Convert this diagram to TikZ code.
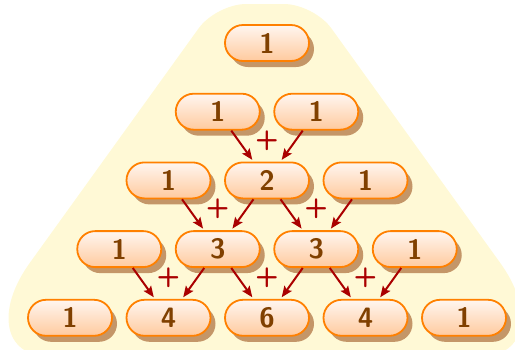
\documentclass[tikz,border=0pt]{standalone}
\usetikzlibrary{shadows,arrows.meta,calc}
\definecolor{bgyellow}{RGB}{255,249,214}
\definecolor{boxline}{RGB}{255,128,0}
\definecolor{boxtop}{RGB}{255,246,240}
\definecolor{boxbottom}{RGB}{255,202,158}
\definecolor{shadowbrown}{RGB}{196,150,104}
\definecolor{numbrown}{RGB}{128,64,0}
\definecolor{arrowred}{RGB}{170,0,0}
\begin{document}
\begin{tikzpicture}[x=1pt,y=-1pt,
  entry/.style={rectangle, rounded corners=18pt, minimum width=84pt,
    minimum height=36pt, line width=1.8pt, draw=boxline,
    top color=boxtop, bottom color=boxbottom,
    drop shadow={shadow xshift=5pt, shadow yshift=-6pt, fill=shadowbrown, opacity=1},
    text=numbrown, inner sep=0pt,
    font=\fontsize{28}{32}\selectfont\sffamily\bfseries},
  sum/.style={-{Stealth[length=11pt,width=9pt,inset=2pt]}, line width=2pt,
    draw=arrowred, shorten >=2pt},
  plus/.style={text=arrowred, inner sep=0pt,
    font=\fontsize{27}{31}\selectfont\sffamily\bfseries}
]
\useasboundingbox (0,0) rectangle (515,349);
% soft trapezoid backdrop with rounded corners
\begin{scope}
  \clip (0,0) rectangle (515,349);
  \fill[bgyellow] (29.7,263) -- (198.6,28.4)
    .. controls (208.2,14.9) and (229.4,4) .. (246,4) -- (284,4)
    .. controls (300.6,4) and (321.8,14.9) .. (331.4,28.4) -- (500.3,263)
    .. controls (534.9,311) and (526,356) .. (482,356) -- (48,356)
    .. controls (4,356) and (-4.9,311) .. (29.7,263) -- cycle;
\end{scope}
% rows of the triangle
\foreach \vals [count=\r from 0] in {{1},{1,1},{1,2,1},{1,3,3,1},{1,4,6,4,1}} {
  \foreach \v [count=\k from 0] in \vals {
    \node[entry] (n-\r-\k) at ({267+(\k-\r/2)*98.5}, {43+\r*68.7}) {\v};
  }
}
% sums feeding the inner entries
\foreach \r in {2,3,4} {
  \pgfmathtruncatemacro{\p}{\r-1}
  \pgfmathtruncatemacro{\last}{\r-1}
  \foreach \k in {1,...,\last} {
    \pgfmathtruncatemacro{\km}{\k-1}
    \draw[sum] (n-\p-\km) -- (n-\r-\k);
    \draw[sum] (n-\p-\k) -- (n-\r-\k);
    \node[plus] (plus-\r-\k) at ($(n-\r-\k)+(0,-40)$) {+};
  }
}
\end{tikzpicture}
\end{document}
